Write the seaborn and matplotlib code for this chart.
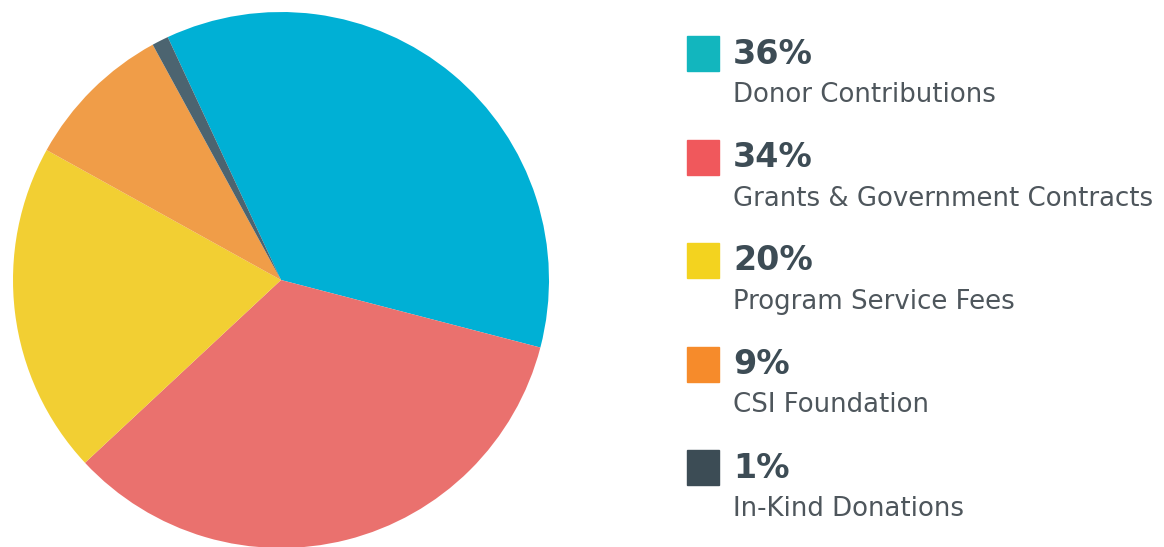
import matplotlib
matplotlib.use("Agg")
import matplotlib.pyplot as plt
import seaborn as sns
from matplotlib.patches import Rectangle

# datos
categorias = ["Donor Contributions", "Grants & Government Contracts",
              "Program Service Fees", "CSI Foundation", "In-Kind Donations"]
porcentajes = [36, 34, 20, 9, 1]
colores_pie = ["#00B0D5", "#EA716E", "#F2CF33", "#F09D48", "#4C6470"]
colores_leyenda = ["#12B6BE", "#F0585C", "#F3D31F", "#F68B2B", "#3C4C55"]

sns.set_style("white")
plt.rcParams['font.family'] = ['DejaVu Sans']

W, H = 1164, 547
fig = plt.figure(figsize=(W / 100, H / 100), dpi=100)

# pastel (centro ~ (281, 280) px, radio ~268 px)
cx, cy, r = 281, 280, 268
ax = fig.add_axes([(cx - r) / W, (H - cy - r) / H, 2 * r / W, 2 * r / H])
ax.pie(porcentajes, colors=colores_pie, startangle=115, counterclock=False,
       radius=1, wedgeprops=dict(linewidth=0))
ax.set_xlim(-1, 1)
ax.set_ylim(-1, 1)
ax.set_aspect("equal")
ax.axis("off")

# leyenda a mano
y0, paso = 54, 103.5
for i, (cat, pct, col) in enumerate(zip(categorias, porcentajes, colores_leyenda)):
    yc = y0 + i * paso
    fig.patches.append(Rectangle((687 / W, (H - yc - 17) / H), 32 / W, 35 / H,
                                 transform=fig.transFigure, color=col))
    fig.text(733 / W, (H - yc) / H, f"{pct}%", fontsize=24, fontweight="bold",
             color="#3D4C55", va="center", ha="left")
    fig.text(733 / W, (H - yc - 41) / H, cat, fontsize=18.7, color="#4E565C",
             va="center", ha="left")

fig.savefig("out.png", dpi=100)
